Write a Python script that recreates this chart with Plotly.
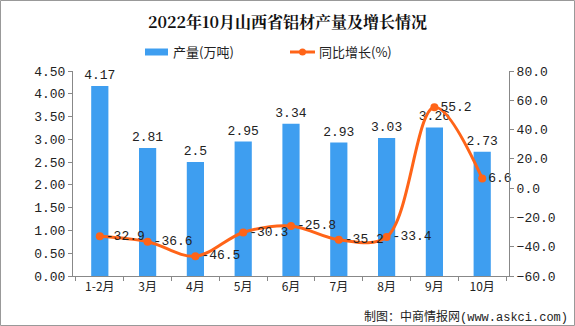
import plotly.graph_objects as go

categories = ["1-2月", "3月", "4月", "5月", "6月", "7月", "8月", "9月", "10月"]
output = [4.17, 2.81, 2.5, 2.95, 3.34, 2.93, 3.03, 3.26, 2.73]
growth = [-32.9, -36.6, -46.5, -30.3, -25.8, -35.2, -33.4, 55.2, 6.6]
bar_labels = ["4.17", "2.81", "2.5", "2.95", "3.34", "2.93", "3.03", "3.26", "2.73"]
line_labels = ["-32.9", "-36.6", "-46.5", "-30.3", "-25.8", "-35.2", "-33.4", "55.2", "6.6"]

FONT = "Liberation Mono, Noto Sans CJK SC, sans-serif"
BAR_COLOR = "#3E9EF0"
LINE_COLOR = "#FF6418"
W, H = 575, 326
ML, MR, MT, MB = 73, 66, 71, 50
pw, ph = W - ML - MR, H - MT - MB


def px(x):
    return (x - ML) / pw


def py(y):
    return (H - MB - y) / ph


fig = go.Figure()
fig.add_trace(go.Bar(
    x=categories, y=output, name="产量(万吨)",
    marker=dict(color=BAR_COLOR, line=dict(width=0)),
    text=bar_labels, textposition="outside", cliponaxis=False,
    constraintext="none",
    textfont=dict(family=FONT, size=13, color="#222222"),
    width=0.36, showlegend=False,
))
fig.add_trace(go.Scatter(
    x=categories, y=growth, name="同比增长(%)", yaxis="y2",
    mode="lines+markers+text",
    line=dict(color=LINE_COLOR, width=3, shape="spline", smoothing=1),
    marker=dict(color=LINE_COLOR, size=8),
    text=line_labels, textposition="middle right",
    textfont=dict(family=FONT, size=13, color="#222222"),
    cliponaxis=False, showlegend=False,
))

fig.update_layout(
    width=W, height=H,
    margin=dict(l=ML, r=MR, t=MT, b=MB),
    paper_bgcolor="white", plot_bgcolor="white",
    font=dict(family=FONT, size=12, color="#222222"),
    title=dict(text="<b>2022年10月山西省铝材产量及增长情况</b>",
               x=0.5, xanchor="center", y=1 - 22 / H, yanchor="middle",
               font=dict(family="Noto Serif CJK SC, Noto Sans CJK SC", size=16, color="#111111")),
    showlegend=False,
    xaxis=dict(showline=True, linecolor="#888888", linewidth=1, ticks="outside",
               tickson="boundaries", ticklen=4, tickcolor="#888888",
               tickfont=dict(family="Noto Sans CJK SC", size=12), showgrid=False),
    yaxis=dict(range=[0, 4.5], dtick=0.5, tickformat=".2f", showline=True,
               linecolor="#888888", ticks="outside", ticklen=4, tickcolor="#888888",
               showgrid=False, zeroline=False, tickfont=dict(size=13)),
    yaxis2=dict(range=[-60, 80], dtick=20, tickformat=".1f", overlaying="y", side="right",
                showline=True, linecolor="#888888", ticks="outside", ticklen=4,
                tickcolor="#888888", showgrid=False, zeroline=False, tickfont=dict(size=13)),
)

# outer frame
fig.add_shape(type="rect", xref="paper", yref="paper",
              x0=px(0.5), x1=px(W - 0.5), y0=py(H - 0.5), y1=py(0.5),
              line=dict(color="#999999", width=1), layer="below")

# custom legend
LY = 52
fig.add_shape(type="rect", xref="paper", yref="paper",
              x0=px(145), x1=px(168), y0=py(LY + 3.5), y1=py(LY - 3.5),
              fillcolor=BAR_COLOR, line=dict(width=0))
fig.add_annotation(text="产量(万吨)", xref="paper", yref="paper",
                   x=px(171), xanchor="left", y=py(LY), yanchor="middle",
                   showarrow=False, font=dict(family="Noto Sans CJK SC", size=13, color="#222222"))
fig.add_shape(type="line", xref="paper", yref="paper",
              x0=px(290), x1=px(315), y0=py(LY), y1=py(LY),
              line=dict(color=LINE_COLOR, width=3))
fig.add_shape(type="circle", xref="paper", yref="paper",
              x0=px(299), x1=px(306), y0=py(LY + 3.5), y1=py(LY - 3.5),
              fillcolor=LINE_COLOR, line=dict(width=0))
fig.add_annotation(text="同比增长(%)", xref="paper", yref="paper",
                   x=px(317), xanchor="left", y=py(LY), yanchor="middle",
                   showarrow=False, font=dict(family="Noto Sans CJK SC", size=13, color="#222222"))

fig.add_annotation(text="制图：中商情报网(www.askci.com)", xref="paper", yref="paper",
                   x=px(W - 5), xanchor="right", y=py(317), yanchor="middle",
                   showarrow=False, font=dict(family=FONT, size=12, color="#222222"))

fig.write_html("out.html")
